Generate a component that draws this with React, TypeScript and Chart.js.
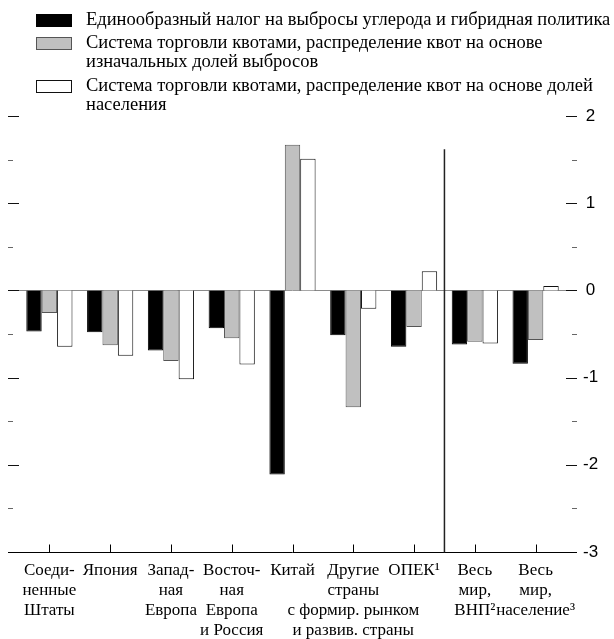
import React, { useEffect, useRef } from "react";
import { Chart, registerables } from "chart.js";

Chart.register(...registerables);

// ---- data ----
const categories: string[][] = [
  ["Соеди-", "ненные", "Штаты"],
  ["Япония"],
  ["Запад-", "ная", "Европа"],
  ["Восточ-", "ная", "Европа", "и Россия"],
  ["Китай"],
  ["Другие", "страны", "с формир. рынком", "и развив. страны"],
  ["ОПЕК¹"],
  ["Весь", "мир,", "ВНП²"],
  ["Весь", "мир,", "население³"],
];

const taxHybrid = [-0.47, -0.48, -0.69, -0.435, -2.11, -0.515, -0.645, -0.62, -0.84];
const tradingEmissions = [-0.26, -0.63, -0.81, -0.55, 1.67, -1.34, -0.42, -0.59, -0.57];
const tradingPopulation = [-0.645, -0.75, -1.02, -0.85, 1.51, -0.21, 0.22, -0.61, 0.05];

const legendLines: string[][] = [
  ["Единообразный налог на выбросы углерода и гибридная политика"],
  ["Система торговли квотами, распределение квот на основе", "изначальных долей выбросов"],
  ["Система торговли квотами, распределение квот на основе долей", "населения"],
];

const yMin = -3;
const yMax = 2;
const separatorTop = 1.62; // value where the vertical separator starts
const separatorAfterIndex = 6; // separator between OPEC and world

const SERIF = "'Liberation Serif', 'Times New Roman', serif";
const SANS = "'Liberation Sans', Arial, sans-serif";

const framePlugin = {
  id: "frame",
  beforeDatasetsDraw(chart: any) {
    const { ctx, chartArea, scales } = chart;
    const y = scales.y;
    const y0 = Math.round(y.getPixelForValue(0)) + 0.5;
    ctx.save();
    ctx.strokeStyle = "#8a8a8a";
    ctx.lineWidth = 1;
    ctx.beginPath();
    ctx.moveTo(chartArea.left - 11, y0);
    ctx.lineTo(chartArea.right + 11, y0);
    ctx.stroke();
    ctx.restore();
  },
  afterDatasetsDraw(chart: any) {
    const { ctx, chartArea, scales } = chart;
    const y = scales.y;
    const x = scales.x;
    const L = chartArea.left - 11;
    const R = chartArea.right + 11;
    ctx.save();
    // y tick marks on both sides (major at integers, minor at halves)
    const vals: number[] = [];
    y.ticks.forEach((t: any, i: number) => {
      vals.push(t.value);
      if (i < y.ticks.length - 1) vals.push((t.value + y.ticks[i + 1].value) / 2);
    });
    vals.forEach((v) => {
      const major = Number.isInteger(v);
      const py = Math.round(y.getPixelForValue(v)) + 0.5;
      const len = major ? 11 : 5;
      ctx.strokeStyle = major ? "#111" : "#666";
      ctx.lineWidth = 1;
      ctx.beginPath();
      ctx.moveTo(L, py);
      ctx.lineTo(L + len, py);
      ctx.moveTo(R - len, py);
      ctx.lineTo(R, py);
      ctx.stroke();
    });
    // bottom axis line
    const yb = Math.round(chartArea.bottom) + 0.5;
    ctx.strokeStyle = "#000";
    ctx.beginPath();
    ctx.moveTo(L, yb);
    ctx.lineTo(R, yb);
    ctx.stroke();
    // category ticks (pointing inward)
    categories.forEach((_, i) => {
      const px = Math.round(x.getPixelForValue(i)) + 0.5;
      ctx.beginPath();
      ctx.moveTo(px, yb);
      ctx.lineTo(px, yb - 8);
      ctx.stroke();
    });
    // vertical separator
    const sx =
      (x.getPixelForValue(separatorAfterIndex) + x.getPixelForValue(separatorAfterIndex + 1)) / 2;
    ctx.strokeStyle = "#222";
    ctx.lineWidth = 1.5;
    ctx.beginPath();
    ctx.moveTo(sx, y.getPixelForValue(separatorTop));
    ctx.lineTo(sx, yb);
    ctx.stroke();

    // legend
    const firstLineY = [20, 43, 86];
    const lineStep = 19;
    ctx.font = `18.5px ${SERIF}`;
    ctx.textBaseline = "middle";
    ctx.textAlign = "left";
    chart.data.datasets.forEach((ds: any, i: number) => {
      const cy = firstLineY[i];
      const bx = 36.5;
      const by = Math.round(cy - 6) + 0.5;
      ctx.fillStyle = ds.backgroundColor;
      ctx.fillRect(bx, by, 35, 12);
      ctx.strokeStyle = ds.borderColor;
      ctx.lineWidth = 1;
      ctx.strokeRect(bx, by, 35, 12);
      ctx.fillStyle = "#000";
      legendLines[i].forEach((line, j) => {
        ctx.fillText(line, 86, cy + j * lineStep);
      });
    });
    ctx.restore();
  },
};

export default function App() {
  const ref = useRef<HTMLCanvasElement | null>(null);
  useEffect(() => {
    if (!ref.current) return;
    Chart.defaults.color = "#000";
    const chart = new Chart(ref.current, {
      type: "bar",
      data: {
        labels: categories,
        datasets: [
          {
            label: legendLines[0].join(" "),
            data: taxHybrid,
            backgroundColor: "#000000",
            borderColor: "#000000",
            borderWidth: 1,
          },
          {
            label: legendLines[1].join(" "),
            data: tradingEmissions,
            backgroundColor: "#c0c0c0",
            borderColor: "#555555",
            borderWidth: 1,
          },
          {
            label: legendLines[2].join(" "),
            data: tradingPopulation,
            backgroundColor: "#ffffff",
            borderColor: "#111111",
            borderWidth: 1,
          },
        ],
      },
      options: {
        animation: false,
        responsive: false,
        maintainAspectRatio: false,
        layout: { padding: { top: 116, left: 19, right: 0, bottom: 0 } },
        datasets: {
          bar: { categoryPercentage: 0.76, barPercentage: 1.0 },
        },
        plugins: {
          legend: { display: false },
          tooltip: { enabled: false },
        },
        scales: {
          x: {
            grid: { display: false, drawTicks: false },
            border: { display: false },
            ticks: {
              color: "#000",
              padding: 9,
              autoSkip: false,
              maxRotation: 0,
              minRotation: 0,
              font: { family: SERIF, size: 17, lineHeight: "20px" },
            },
            afterFit(scale: any) {
              scale.height = 87;
            },
          },
          y: {
            position: "right",
            min: yMin,
            max: yMax,
            grid: { display: false, drawTicks: false },
            border: { display: false },
            ticks: {
              stepSize: 1,
              color: "#000",
              padding: 17,
              crossAlign: "center",
              font: { family: SANS, size: 17 },
              callback: (v: any) => String(v),
            },
            afterFit(scale: any) {
              scale.width = 48;
            },
          },
        },
      },
      plugins: [framePlugin],
    });
    return () => chart.destroy();
  }, []);
  return (
    <div style={{ position: "absolute", left: 0, top: 0, width: 614, height: 639, background: "#fff" }}>
      <canvas ref={ref} width={614} height={639} style={{ display: "block" }} />
    </div>
  );
}
